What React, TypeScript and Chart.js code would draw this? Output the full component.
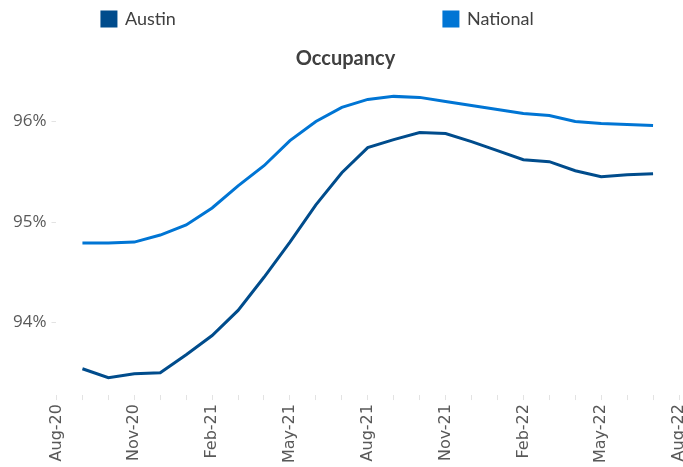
import React, { useEffect, useRef } from 'react';
import { Chart, registerables } from 'chart.js';

Chart.register(...registerables);

const months = [
  'Aug-20', 'Sep-20', 'Oct-20', 'Nov-20', 'Dec-20', 'Jan-21', 'Feb-21', 'Mar-21', 'Apr-21',
  'May-21', 'Jun-21', 'Jul-21', 'Aug-21', 'Sep-21', 'Oct-21', 'Nov-21', 'Dec-21', 'Jan-22',
  'Feb-22', 'Mar-22', 'Apr-22', 'May-22', 'Jun-22', 'Jul-22', 'Aug-22',
];
const austin = [
  null, 93.54, 93.45, 93.49, 93.5, 93.68, 93.87, 94.12, 94.45, 94.8, 95.17, 95.49, 95.74,
  95.82, 95.89, 95.88, 95.8, 95.71, 95.62, 95.6, 95.51, 95.45, 95.47, 95.48, null,
];
const national = [
  null, 94.79, 94.79, 94.8, 94.87, 94.97, 95.14, 95.36, 95.56, 95.81, 96.0, 96.14, 96.22,
  96.25, 96.24, 96.2, 96.16, 96.12, 96.08, 96.06, 96.0, 95.98, 95.97, 95.96, null,
];
const yTicks = [94, 95, 96];
const seriesNames = ['Austin', 'National'];
const colors = ['#004C8C', '#0075D4'];

const LEGEND_FONT = { family: 'Lato', size: 18 };
const LEGEND_PAD = 10;
const LEGEND_BOX = 14;

export default function App() {
  const ref = useRef<HTMLCanvasElement | null>(null);
  useEffect(() => {
    const canvas = ref.current;
    if (!canvas) return;
    const chart = new Chart(canvas, {
      type: 'line',
      data: {
        labels: months,
        datasets: [
          {
            label: seriesNames[0],
            data: austin,
            borderColor: colors[0],
            backgroundColor: colors[0],
            borderWidth: 3,
            pointRadius: 0,
            tension: 0,
          },
          {
            label: seriesNames[1],
            data: national,
            borderColor: colors[1],
            backgroundColor: colors[1],
            borderWidth: 3,
            pointRadius: 0,
            tension: 0,
          },
        ],
      },
      options: {
        animation: false,
        responsive: true,
        maintainAspectRatio: false,
        layout: { padding: { left: 8, right: 0, top: 0, bottom: 0 } },
        plugins: {
          tooltip: { enabled: false },
          legend: {
            position: 'top',
            weight: 3000,
            labels: {
              boxWidth: LEGEND_BOX,
              boxHeight: LEGEND_BOX,
              padding: LEGEND_PAD,
              color: '#404040',
              font: LEGEND_FONT,
              generateLabels: (c: any) => {
                const items = Chart.defaults.plugins.legend.labels.generateLabels(c);
                const ctx = c.ctx;
                ctx.save();
                ctx.font = `${LEGEND_FONT.size}px ${LEGEND_FONT.family}`;
                const targets = [308, 119];
                items.forEach((it: any, i: number) => {
                  let t = it.text;
                  while (ctx.measureText(t).width < targets[i]) t += ' ';
                  it.text = t;
                });
                ctx.restore();
                return items;
              },
            },
          },
          title: {
            display: true,
            text: 'Occupancy',
            color: '#404040',
            font: { family: 'Lato', size: 20, weight: 'bold' },
            padding: { top: 9, bottom: 10 },
          },
        },
        scales: {
          x: {
            type: 'category',
            border: { display: false },
            grid: {
              drawOnChartArea: false,
              drawTicks: true,
              tickLength: 5,
              color: '#e3e3e3',
            },
            afterFit: (s: any) => {
              s.paddingRight = 4;
            },
            ticks: {
              autoSkip: false,
              minRotation: 90,
              maxRotation: 90,
              padding: 4,
              color: '#595959',
              font: { family: 'DejaVu Sans', size: 16 },
              callback: (_v: any, i: number) => (i % 3 === 0 ? months[i] : ''),
            },
          },
          y: {
            min: 93.278,
            max: 96.403,
            border: { display: false },
            grid: {
              drawOnChartArea: false,
              drawTicks: true,
              tickLength: 5,
              color: '#e3e3e3',
            },
            afterBuildTicks: (s: any) => {
              s.ticks = yTicks.map((v) => ({ value: v }));
            },
            ticks: {
              padding: 5,
              color: '#595959',
              font: { family: 'Open Sans', size: 17 },
              callback: (v: any) => `${v}%`,
            },
          },
        },
      },
    });
    return () => chart.destroy();
  }, []);
  return (
    <div style={{ position: 'fixed', left: 0, top: 0, width: 683, height: 467, background: '#fff' }}>
      <canvas ref={ref} />
    </div>
  );
}
